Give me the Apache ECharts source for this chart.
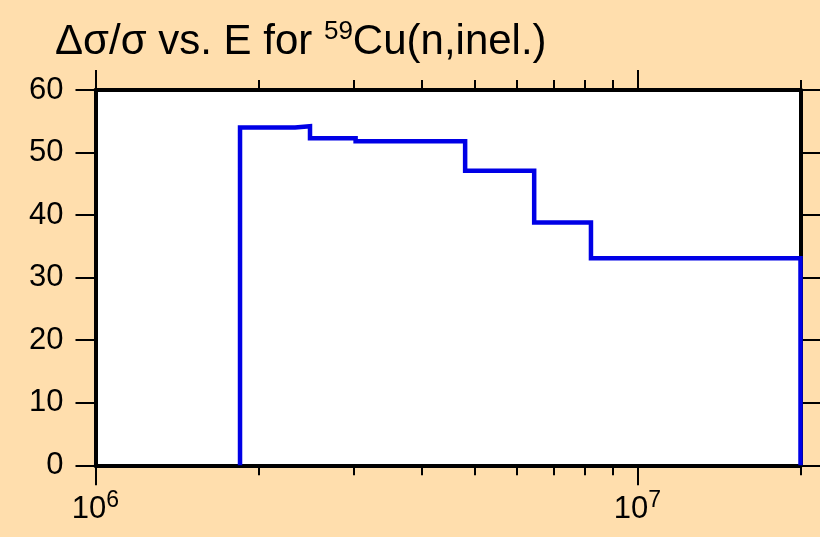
<!DOCTYPE html>
<html>
<head>
<meta charset="utf-8">
<script src="https://cdn.jsdelivr.net/npm/echarts@6/dist/echarts.min.js"></script>
<style>
html,body{margin:0;padding:0;background:#FFDEAD;}
#c{width:820px;height:537px;}
</style>
</head>
<body>
<div id="c"></div>
<script>
// Bin edges (eV) and relative uncertainty (%) per bin
const binEdges = [1.848e6, 2.335e6, 2.488e6, 3.02e6, 4.81e6, 6.45e6, 8.21e6, 2.0e7];
const binValues = [54.0, 54.2, 52.3, 51.8, 47.1, 38.8, 33.1];
const xMajorTicks = [1e6, 1e7];
const xMinorTicks = [2e6, 3e6, 4e6, 5e6, 6e6, 7e6, 8e6, 9e6, 2e7];
const yTicks = [0, 10, 20, 30, 40, 50, 60];

const stepPoints = [[binEdges[0], 0]];
for (let i = 0; i < binValues.length; i++) {
  stepPoints.push([binEdges[i], binValues[i]]);
  stepPoints.push([binEdges[i + 1], binValues[i]]);
}
stepPoints.push([binEdges[binEdges.length - 1], 0]);

const FONT = 'Liberation Sans, Arial, sans-serif';
const black = '#000';

function xAxisCfg(pos, ticks, len, lineShow, labelShow) {
  return {
    type: 'log', logBase: 10, min: 1e6, max: 2e7, position: pos,
    gridIndex: 0,
    axisLine: { show: lineShow, lineStyle: { color: black, width: 4 } },
    axisTick: { show: true, customValues: ticks, length: len, inside: false, lineStyle: { color: black, width: 2 } },
    axisLabel: labelShow ? {
      show: true, customValues: xMajorTicks, margin: 24,
      formatter: v => '{b|10}{s|' + Math.round(Math.log10(v)) + '}',
      rich: {
        b: { fontSize: 31, fontFamily: FONT, color: black },
        s: { fontSize: 23, fontFamily: FONT, color: black, padding: [0, 0, 18, 0] }
      }
    } : { show: false },
    splitLine: { show: false },
    minorTick: { show: false }
  };
}

const chart = echarts.init(document.getElementById('c'), null, { renderer: 'canvas' });
chart.setOption({
  animation: false,
  backgroundColor: '#FFDEAD',
  title: {
    left: 50, top: 14,
    text: '{a|Δσ/σ vs. E for }{s|59}{a|Cu(n,inel.)}',
    textStyle: {
      fontWeight: 'normal',
      rich: {
        a: { fontSize: 42, fontFamily: FONT, color: black, fontWeight: 'normal' },
        s: { fontSize: 26, fontFamily: FONT, color: black, fontWeight: 'normal', padding: [0, 0, 20, 0] }
      }
    }
  },
  grid: {
    left: 95.5, right: 19.5, top: 90, bottom: 71.7,
    show: true, backgroundColor: '#ffffff', borderWidth: 0
  },
  xAxis: [
    xAxisCfg('bottom', xMajorTicks, 20, true, true),
    xAxisCfg('bottom', xMinorTicks, 10, false, false),
    xAxisCfg('top', xMajorTicks, 20, true, false),
    xAxisCfg('top', xMinorTicks, 10, false, false)
  ],
  yAxis: [
    {
      type: 'value', min: 0, max: 60, interval: 10, position: 'left',
      axisLine: { show: true, lineStyle: { color: black, width: 4 } },
      axisTick: { show: true, length: 20, lineStyle: { color: black, width: 2 } },
      axisLabel: { show: true, fontSize: 31, fontFamily: FONT, color: black, margin: 32 },
      splitLine: { show: false }
    },
    {
      type: 'value', min: 0, max: 60, interval: 10, position: 'right',
      axisLine: { show: true, lineStyle: { color: black, width: 4 } },
      axisTick: { show: true, length: 20, lineStyle: { color: black, width: 2 } },
      axisLabel: { show: false },
      splitLine: { show: false }
    }
  ],
  series: [{
    type: 'line',
    xAxisIndex: 0, yAxisIndex: 0,
    data: stepPoints,
    showSymbol: false,
    symbol: 'none',
    clip: false,
    lineStyle: { color: '#0000E6', width: 4.5, join: 'miter' },
    z: 1
  }]
});
</script>
</body>
</html>
